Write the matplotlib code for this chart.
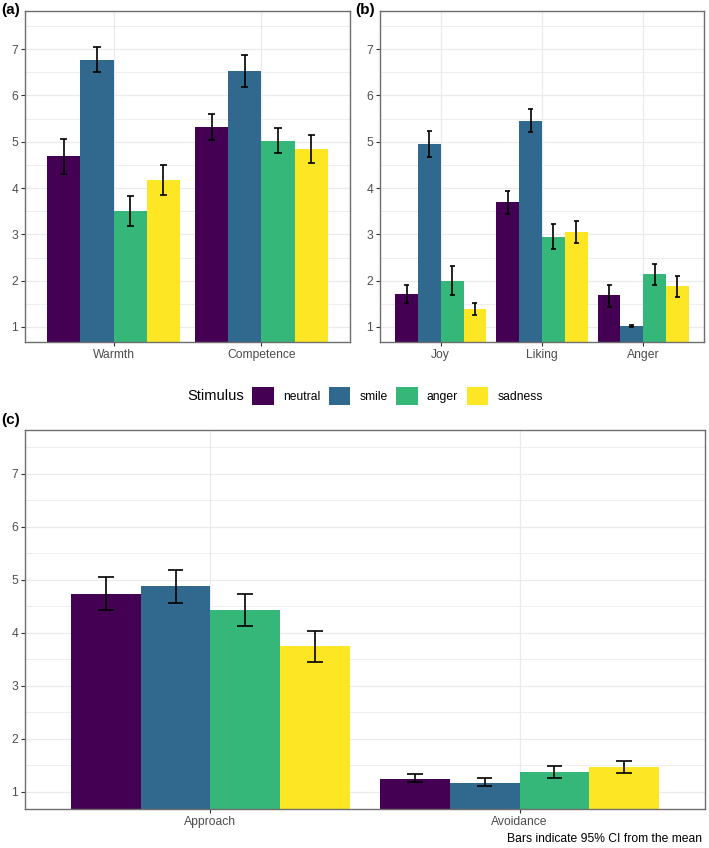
import numpy as np
import matplotlib
matplotlib.use("Agg")
import matplotlib.pyplot as plt
from matplotlib.patches import Patch

plt.rcParams["font.family"] = ["Liberation Sans", "DejaVu Sans"]

STIMULI = ["neutral", "smile", "anger", "sadness"]
COLORS = ["#440154", "#31688E", "#35B779", "#FDE725"]

# panel (a): rows = stimulus, cols = item
a_items = ["Warmth", "Competence"]
a_mean = [[4.69, 5.32], [6.76, 6.52], [3.51, 5.02], [4.17, 4.85]]
a_lo = [[4.31, 5.04], [6.50, 6.18], [3.19, 4.76], [3.84, 4.55]]
a_hi = [[5.06, 5.60], [7.04, 6.87], [3.83, 5.29], [4.50, 5.15]]

# panel (b)
b_items = ["Joy", "Liking", "Anger"]
b_mean = [[1.71, 3.69, 1.68], [4.95, 5.45, 1.01], [1.99, 2.94, 2.14], [1.38, 3.05, 1.88]]
b_lo = [[1.52, 3.45, 1.44], [4.67, 5.22, 1.00], [1.68, 2.68, 1.90], [1.25, 2.81, 1.65]]
b_hi = [[1.91, 3.94, 1.91], [5.24, 5.71, 1.04], [2.31, 3.22, 2.37], [1.52, 3.29, 2.09]]

# panel (c)
c_items = ["Approach", "Avoidance"]
c_mean = [[4.74, 1.24], [4.88, 1.17], [4.43, 1.37], [3.75, 1.46]]
c_lo = [[4.43, 1.18], [4.56, 1.10], [4.13, 1.26], [3.45, 1.36]]
c_hi = [[5.06, 1.33], [5.19, 1.26], [4.74, 1.48], [4.04, 1.58]]

W_PX, H_PX = 709, 848
BAR_W = 0.225
CAP = 0.025
TICK_C = "#4D4D4D"
GRID_C = "#EBEBEB"
BORDER_C = "#6E6E6E"


def px_axes(fig, left, top, right, bottom):
    return fig.add_axes([left / W_PX, 1 - bottom / H_PX,
                         (right - left) / W_PX, (bottom - top) / H_PX])


def draw_panel(ax, items, mean, lo, hi):
    n = len(items)
    x = np.arange(n)
    mean, lo, hi = np.array(mean), np.array(lo), np.array(hi)
    for k, (stim, col) in enumerate(zip(STIMULI, COLORS)):
        xs = x + (k - 1.5) * BAR_W
        ax.bar(xs, mean[k], width=BAR_W, color=col, zorder=2, linewidth=0)
        ax.vlines(xs, lo[k], hi[k], color="black", lw=1.2, zorder=3)
        ax.hlines(lo[k], xs - CAP, xs + CAP, color="black", lw=1.2, zorder=3)
        ax.hlines(hi[k], xs - CAP, xs + CAP, color="black", lw=1.2, zorder=3)
    ax.set_xlim(-0.6, n - 1 + 0.6)
    ax.set_ylim(0.675, 7.825)
    ax.set_xticks(x)
    ax.set_xticklabels(items)
    ax.set_yticks(range(1, 8))
    ax.set_yticks(np.arange(1.5, 7.6, 1.0), minor=True)
    ax.grid(True, which="major", color=GRID_C, lw=0.9, zorder=0)
    ax.grid(True, which="minor", axis="y", color=GRID_C, lw=0.6, zorder=0)
    ax.set_axisbelow(True)
    ax.tick_params(which="major", length=3, width=0.8, color="#333333",
                   labelcolor=TICK_C, labelsize=8.7, pad=2)
    ax.tick_params(which="minor", length=0)
    for s in ax.spines.values():
        s.set_color(BORDER_C)
        s.set_linewidth(1.0)


fig = plt.figure(figsize=(W_PX / 100, H_PX / 100), dpi=100)

ax_a = px_axes(fig, 25, 11, 350, 342)
draw_panel(ax_a, a_items, a_mean, a_lo, a_hi)
ax_b = px_axes(fig, 380, 11, 704, 342)
draw_panel(ax_b, b_items, b_mean, b_lo, b_hi)
ax_c = px_axes(fig, 25, 430, 705, 809)
draw_panel(ax_c, c_items, c_mean, c_lo, c_hi)

for lab, xp, yp in [("(a)", 1, 10), ("(b)", 355, 10), ("(c)", 1, 420)]:
    fig.text(xp / W_PX, 1 - yp / H_PX, lab, fontsize=11, fontweight="bold",
             ha="left", va="center")

# legend row
fig.text(187 / W_PX, 1 - 396 / H_PX, "Stimulus", fontsize=10.5, ha="left", va="center")
handles = [Patch(facecolor=c, edgecolor="none", label=s) for s, c in zip(STIMULI, COLORS)]
fig.legend(handles=handles, loc="center left", bbox_to_anchor=(252 / W_PX, 1 - 396 / H_PX),
           ncol=4, frameon=False, fontsize=8.7, handlelength=1.8, handleheight=1.8,
           handletextpad=0.75, columnspacing=0.7, borderpad=0, borderaxespad=0)

fig.text(702 / W_PX, 1 - 839 / H_PX, "Bars indicate 95% CI from the mean",
         fontsize=8.7, ha="right", va="center")

fig.savefig("out.png", dpi=100)
